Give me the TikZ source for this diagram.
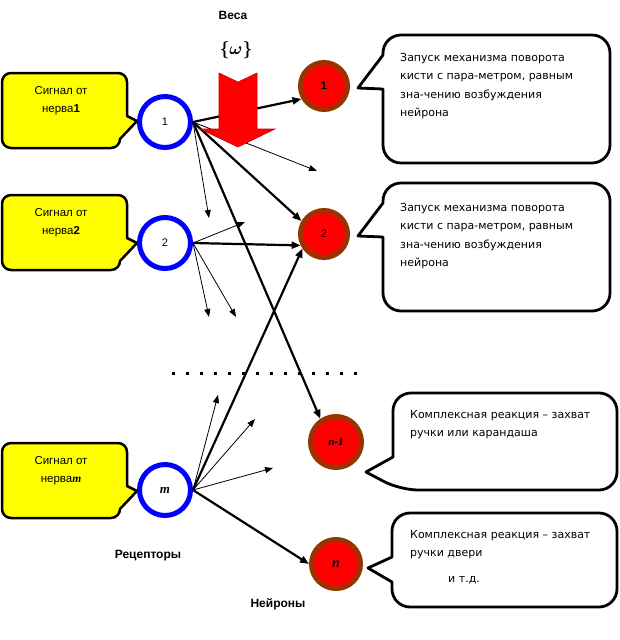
\documentclass[tikz,border=0pt]{standalone}
\usepackage{fontspec}
\setmainfont{Liberation Sans}
\newfontfamily\bubfont{DejaVu Sans}
\newfontfamily\serifbi{Liberation Serif}
\usetikzlibrary{arrows.meta}
\definecolor{nbrown}{RGB}{153,51,0}
\definecolor{sigyellow}{RGB}{255,255,0}

\begin{document}
\begin{tikzpicture}[x=1pt, y=-1pt,
    receptor/.style={circle, draw=blue, line width=5pt, fill=white,
                     minimum size=51pt, inner sep=0pt, font=\fontsize{11}{12}\selectfont},
    neuron/.style={circle, draw=nbrown, line width=5pt, fill=red,
                   minimum size=47pt, inner sep=0pt, font=\fontsize{11}{12}\selectfont},
    sigshape/.style={draw, line width=2.5pt, fill=sigyellow, line join=round},
    bubble/.style={draw, line width=2.8pt, fill=white, line join=round},
    sigtext/.style={align=center, inner sep=0pt, font=\fontsize{11.5}{18}\selectfont},
    bubtext/.style={align=left, anchor=north west, inner sep=0pt,
                    font=\bubfont\fontsize{11}{18.5}\selectfont},
    thickarr/.style={-{Triangle[length=9pt,width=7pt]}, line width=2.2pt},
    thinarr/.style={-{Triangle[length=8pt,width=6pt]}, line width=0.8pt},
    lbl/.style={font=\bfseries\fontsize{12}{14}\selectfont},
    dotline/.style={line width=3pt, dash pattern=on 3pt off 11pt},
  ]
  \fill[white] (0,0) rectangle (620,640);
  \useasboundingbox (0,0) rectangle (620,640);

  % signal callouts
  \foreach \t/\k/\num in {73/1/{\textbf{1}}, 195/2/{\textbf{2}}, 443/m/{\serifbi\bfseries\itshape m}} {
    \draw[sigshape] (127,\t+43) [rounded corners=9pt] -- (127,\t) -- (2,\t) -- (2,\t+75)
      -- (120,\t+75) [sharp corners] -- (120,\t+66) -- (137,\t+48) -- cycle;
    \node[sigtext] (s\k) at (61,\t+28) {Сигнал от\\нерва\num};
  }

  % receptors
  \node[receptor] (r1) at (165,122) {1};
  \node[receptor] (r2) at (165,243) {2};
  \node[receptor, font=\fontsize{13}{14}\selectfont] (rm) at (165,490) {\serifbi\bfseries\itshape m};

  % neurons
  \node[neuron] (n1) at (324,86) {\textbf{1}};
  \node[neuron] (n2) at (324,234) {2};
  \node[neuron, minimum size=51pt] (nn1) at (336,442) {\serifbi\bfseries\itshape n-1};
  \node[neuron, minimum size=49pt, font=\fontsize{14}{14}\selectfont] (nn) at (336,564) {\serifbi\bfseries\itshape n};

  % reaction bubbles
  \draw[bubble] (383,89) [rounded corners=18pt] -- (383,163) -- (610,163) -- (610,35)
    -- (383,35) [sharp corners] -- (383,55) -- (358,88) -- cycle;
  \draw[bubble] (383,237) [rounded corners=18pt] -- (383,311) -- (610,311) -- (610,183)
    -- (383,183) [sharp corners] -- (383,203) -- (358,236) -- cycle;
  \draw[bubble] (393,457) [rounded corners=18pt] -- (393,393) -- (617,393) -- (617,490)
    -- (400,490) [sharp corners] -- (366,472) -- cycle;
  \draw[bubble] (392,557) [rounded corners=18pt] -- (392,513) -- (617,513) -- (617,607)
    -- (392,607) [sharp corners] -- (392,582) -- (368,568) -- cycle;

  \node[bubtext] (b1) at (400,53) {Запуск механизма поворота\\кисти с пара-метром, равным\\зна-чению возбуждения\\нейрона};
  \node[bubtext] (b2) at (400,203) {Запуск механизма поворота\\кисти с пара-метром, равным\\зна-чению возбуждения\\нейрона};
  \node[bubtext] (b3) at (410,410) {Комплексная реакция – захват\\ручки или карандаша};
  \node[bubtext] (b4) at (410,530) {Комплексная реакция – захват\\ручки двери\\[7pt]\hspace*{38pt}и т.д.};

  % weights
  \coordinate (a1) at (317,171);
  \coordinate (a2) at (209,218);
  \coordinate (a3) at (245,222);
  \coordinate (a4) at (209,317);
  \coordinate (a5) at (236,317);
  \coordinate (a6) at (218,395);
  \coordinate (a7) at (255,419);
  \coordinate (a8) at (273,468);

  \draw[thinarr] (r1.east) -- (a1);
  \draw[thinarr] (r1.east) -- (a2);
  \draw[thinarr] (r2.east) -- (a3);
  \draw[thinarr] (r2.east) -- (a4);
  \draw[thinarr] (r2.east) -- (a5);
  \draw[thinarr] (rm.east) -- (a6);
  \draw[thinarr] (rm.east) -- (a7);
  \draw[thinarr] (rm.east) -- (a8);

  \draw[thickarr] (r1.east) -- (n1.210);
  \draw[thickarr] (r1.east) -- (n2.150);
  \draw[thickarr] (r1.east) -- (nn1.124);
  \draw[thickarr] (r2.east) -- (n2.206);
  \draw[thickarr] (rm.east) -- (n2.214);
  \draw[thickarr] (rm.east) -- (nn.west);

  % big weight arrow
  \draw[draw=red!80!black, fill=red, line width=0.6pt] (219,73) -- (238,82) -- (257,73) -- (257,129)
    -- (275,129) -- (238,147) -- (200,129) -- (219,129) -- cycle;

  \node[lbl] (wlbl) at (233,15) {Веса};
  \node[font=\boldmath\fontsize{18}{20}\selectfont] (omega) at (236,50) {$\{\omega\}$};

  % dots between receptors
  \coordinate (dl) at (172,373);
  \coordinate (dr) at (358,373);
  \draw[dotline] (dl) -- (dr);

  \node[lbl] (rlbl) at (148,556) {Рецепторы};
  \node[lbl] (nlbl) at (278,604) {Нейроны};
\end{tikzpicture}
\end{document}
